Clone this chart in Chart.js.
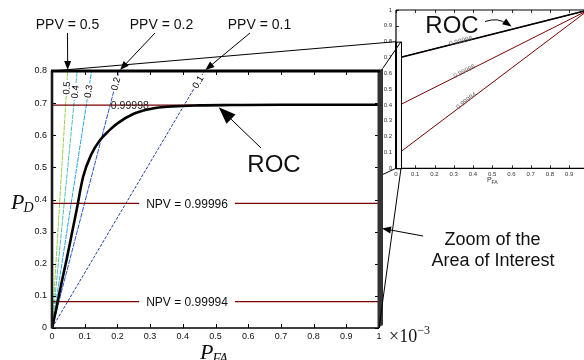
<!DOCTYPE html>
<html><head><meta charset="utf-8">
<script src="https://cdn.jsdelivr.net/npm/chart.js@4.4.1/dist/chart.umd.min.js"></script>
<style>
html,body{margin:0;padding:0;width:584px;height:360px;overflow:hidden;background:#fff;}
#wrap{position:relative;width:584px;height:360px;overflow:hidden;}
canvas{position:absolute;}
</style></head><body>
<div id="wrap">
<canvas id="main" width="584" height="360" style="left:0;top:0;width:584px;height:360px"></canvas>
<canvas id="inset" width="240" height="200" style="left:360px;top:0;width:240px;height:200px"></canvas>
<canvas id="overlay" width="584" height="360" style="left:0;top:0;width:584px;height:360px"></canvas>
</div>
<script>
// ---------------- data ----------------
const xTickValues = [0, 0.1, 0.2, 0.3, 0.4, 0.5, 0.6, 0.7, 0.8, 0.9, 1];
const xTickLabels = ['0', '0.1', '0.2', '0.3', '0.4', '0.5', '0.6', '0.7', '0.8', '0.9', '1'];
const yTickValues = [0, 0.1, 0.2, 0.3, 0.4, 0.5, 0.6, 0.7, 0.8];
const yTickLabels = ['0', '0.1', '0.2', '0.3', '0.4', '0.5', '0.6', '0.7', '0.8'];

// ROC curve (P_FA in units of 1e-3)
const rocPFA = [0, 0.01, 0.02, 0.03, 0.045, 0.06, 0.075, 0.095, 0.12, 0.147, 0.175, 0.2, 0.25, 0.3, 0.37, 0.45, 0.55, 0.7, 0.85, 1.0];
const rocPD  = [0, 0.045, 0.095, 0.145, 0.215, 0.29, 0.366, 0.47, 0.54, 0.585, 0.615, 0.637, 0.667, 0.682, 0.690, 0.693, 0.694, 0.695, 0.695, 0.695];

// NPV iso-lines (horizontal)
const npvLevels = ['0.99998', '0.99996', '0.99994'];
const npvPD = [0.694, 0.388, 0.082];

// PPV iso-lines through the origin: P_FA where P_D reaches 0.8
const ppvLevels = ['0.5', '0.4', '0.3', '0.2', '0.1'];
const ppvPFAatTop = [0.048, 0.077, 0.121, 0.205, 0.466];

// inset (full P_FA range 0..1)
const insetTickValues = [0, 0.1, 0.2, 0.3, 0.4, 0.5, 0.6, 0.7, 0.8, 0.9, 1];
const insetTickLabels = ['0', '0.1', '0.2', '0.3', '0.4', '0.5', '0.6', '0.7', '0.8', '0.9', '1'];
const insetRocPFA = [0, 0.001, 1];
const insetRocPD = [0, 0.694, 1];
const insetNpvStartPD = [0.694, 0.388, 0.082];
const insetNpvEnd = [1, 1];

// ---------------- styles ----------------
const SANS = "'Liberation Sans', Arial, Helvetica, sans-serif";
const SERIF = "'Liberation Serif', 'Times New Roman', serif";
const NPV_COLOR = '#7a0000';
const PPV_COLORS = ['#9ccf45', '#4cc2b0', '#27a3e3', '#2a55c4', '#1d3c9e'];

function arrowHead(ctx, fx, fy, tx, ty, len, wid) {
  const a = Math.atan2(ty - fy, tx - fx);
  const c = Math.cos(a), s = Math.sin(a);
  ctx.beginPath();
  ctx.moveTo(tx, ty);
  ctx.lineTo(tx - c * len - s * wid / 2, ty - s * len + c * wid / 2);
  ctx.lineTo(tx - c * len + s * wid / 2, ty - s * len - c * wid / 2);
  ctx.closePath();
  ctx.fill();
}
function arrow(ctx, x0, y0, x1, y1, len, wid) {
  const a = Math.atan2(y1 - y0, x1 - x0);
  ctx.beginPath();
  ctx.moveTo(x0, y0);
  ctx.lineTo(x1 - Math.cos(a) * len * 0.7, y1 - Math.sin(a) * len * 0.7);
  ctx.stroke();
  arrowHead(ctx, x0, y0, x1, y1, len, wid);
}

// ---------------- main chart ----------------
const mainDecor = {
  id: 'mainDecor',
  afterDatasetsDraw(chart) {
    const ctx = chart.ctx, xs = chart.scales.x, ys = chart.scales.y, ca = chart.chartArea;
    ctx.save();
    // PPV contour labels
    const ppvLabelPD = [0.747, 0.735, 0.737, 0.76, 0.766];
    ppvLevels.forEach((lab, i) => {
      const pd = ppvLabelPD[i];
      const fa = ppvPFAatTop[i] * pd / 0.8;
      const px = xs.getPixelForValue(fa), py = ys.getPixelForValue(pd);
      const ang = Math.atan2(ys.getPixelForValue(0.8) - ys.getPixelForValue(0),
                             xs.getPixelForValue(ppvPFAatTop[i]) - xs.getPixelForValue(0));
      ctx.save();
      ctx.translate(px, py); ctx.rotate(ang);
      ctx.font = '9.5px ' + SANS;
      const w = ctx.measureText(lab).width;
      ctx.fillStyle = '#fff'; ctx.fillRect(-w / 2 - 1.5, -4, w + 3, 8);
      ctx.fillStyle = '#000'; ctx.textAlign = 'center'; ctx.textBaseline = 'middle';
      ctx.fillText(lab, 0, 0.5);
      ctx.restore();
    });
    // NPV labels
    ctx.textBaseline = 'middle';
    ctx.font = '10.5px ' + SANS; ctx.fillStyle = '#222'; ctx.textAlign = 'left';
    ctx.fillText(npvLevels[0], xs.getPixelForValue(0.18), ys.getPixelForValue(npvPD[0]) + 1);
    ctx.font = '12px ' + SANS; ctx.textAlign = 'center';
    for (let i = 1; i < npvLevels.length; i++) {
      const t = 'NPV = ' + npvLevels[i];
      const px = xs.getPixelForValue(0.413), py = ys.getPixelForValue(npvPD[i]);
      const w = ctx.measureText(t).width;
      ctx.fillStyle = '#fff'; ctx.fillRect(px - w / 2 - 7, py - 3, w + 14, 6);
      ctx.fillStyle = '#111'; ctx.fillText(t, px, py + 1);
    }
    ctx.restore();
  },
  afterDraw(chart) {
    const ctx = chart.ctx, xs = chart.scales.x, ys = chart.scales.y, ca = chart.chartArea;
    ctx.save();
    ctx.strokeStyle = '#000';
    // inward ticks
    ctx.lineWidth = 1;
    xTickValues.forEach(v => {
      const x = Math.round(xs.getPixelForValue(v)) + 0.5;
      ctx.beginPath(); ctx.moveTo(x, ca.bottom); ctx.lineTo(x, ca.bottom - 4); ctx.stroke();
      ctx.beginPath(); ctx.moveTo(x, ca.top); ctx.lineTo(x, ca.top + 4); ctx.stroke();
    });
    yTickValues.forEach(v => {
      const y = Math.round(ys.getPixelForValue(v)) + 0.5;
      ctx.beginPath(); ctx.moveTo(ca.left, y); ctx.lineTo(ca.left + 4, y); ctx.stroke();
      ctx.beginPath(); ctx.moveTo(ca.right, y); ctx.lineTo(ca.right - 4, y); ctx.stroke();
    });
    // box: thick left, bottom, top, 3-D right bar
    ctx.lineWidth = 1.3;
    ctx.beginPath(); ctx.moveTo(ca.left, ca.bottom); ctx.lineTo(ca.right, ca.bottom); ctx.stroke();
    ctx.lineWidth = 2.6; ctx.strokeStyle = '#1a1a1a';
    ctx.beginPath(); ctx.moveTo(ca.left, ca.top); ctx.lineTo(ca.left, ca.bottom + 0.5); ctx.stroke();
    ctx.fillStyle = '#333';
    ctx.beginPath();
    ctx.moveTo(ca.right - 1.5, ca.top); ctx.lineTo(ca.right + 4, ca.top - 3);
    ctx.lineTo(ca.right + 4, ca.bottom - 3); ctx.lineTo(ca.right - 1.5, ca.bottom);
    ctx.closePath(); ctx.fill();
    ctx.lineWidth = 3; ctx.strokeStyle = '#000';
    ctx.beginPath(); ctx.moveTo(ca.left - 1, ca.top); ctx.lineTo(ca.right + 1, ca.top); ctx.stroke();
    // axis titles
    ctx.fillStyle = '#111'; ctx.textBaseline = 'alphabetic'; ctx.textAlign = 'left';
    ctx.font = 'italic 22px ' + SERIF;
    ctx.fillText('P', 11, 209);
    let w = ctx.measureText('P').width;
    ctx.font = 'italic 14px ' + SERIF;
    ctx.fillText('D', 11 + w - 1, 212);
    ctx.font = 'italic 22px ' + SERIF;
    ctx.fillText('P', 200, 359);
    w = ctx.measureText('P').width;
    ctx.font = 'italic 14px ' + SERIF;
    ctx.fillText('FA', 200 + w - 1, 363);
    // x10^-3
    ctx.font = '18px ' + SERIF;
    ctx.fillText('\u00d710', 389, 342);
    w = ctx.measureText('\u00d710').width;
    ctx.font = '12px ' + SERIF;
    ctx.fillText('\u22123', 389 + w, 334);
    ctx.restore();
  }
};

const mainChart = new Chart(document.getElementById('main'), {
  type: 'scatter',
  data: {
    datasets: [
      { label: 'ROC', data: rocPFA.map((x, i) => ({ x, y: rocPD[i] })), showLine: true,
        borderColor: '#000', borderWidth: 2.6, pointRadius: 0, cubicInterpolationMode: 'monotone' },
      ...npvLevels.map((lab, i) => ({
        label: 'NPV ' + lab, data: [{ x: 0, y: npvPD[i] }, { x: 1, y: npvPD[i] }], showLine: true,
        borderColor: NPV_COLOR, borderWidth: 1.3, pointRadius: 0 })),
      ...ppvLevels.map((lab, i) => ({
        label: 'PPV ' + lab, data: [{ x: 0, y: 0 }, { x: ppvPFAatTop[i], y: 0.8 }], showLine: true,
        borderColor: PPV_COLORS[i], borderWidth: 1, borderDash: i === 4 ? [3, 1.5] : [5, 1], pointRadius: 0 }))
    ]
  },
  options: {
    responsive: false, animation: false, devicePixelRatio: 1,
    layout: { padding: { left: 0, top: 71, right: 205, bottom: 0 } },
    plugins: { legend: { display: false }, tooltip: { enabled: false } },
    scales: {
      x: {
        type: 'linear', min: 0, max: 1,
        afterBuildTicks: s => { s.ticks = xTickValues.map(v => ({ value: v })); },
        afterFit: s => { s.height = 32; },
        ticks: { callback: (v, i) => xTickLabels[i], font: { family: SANS, size: 9 }, color: '#111',
                 padding: 3, maxRotation: 0, autoSkip: false },
        grid: { drawOnChartArea: false, drawTicks: false }, border: { display: false }
      },
      y: {
        type: 'linear', min: 0, max: 0.8,
        afterBuildTicks: s => { s.ticks = yTickValues.map(v => ({ value: v })); },
        afterFit: s => { s.width = 52; },
        ticks: { callback: (v, i) => yTickLabels[i], font: { family: SANS, size: 9 }, color: '#111',
                 padding: 5, autoSkip: false },
        grid: { drawOnChartArea: false, drawTicks: false }, border: { display: false }
      }
    }
  },
  plugins: [mainDecor]
});

// ---------------- inset chart ----------------
const insetDecor = {
  id: 'insetDecor',
  afterDraw(chart) {
    const ctx = chart.ctx, xs = chart.scales.x, ys = chart.scales.y, ca = chart.chartArea;
    ctx.save();
    ctx.strokeStyle = '#000'; ctx.lineWidth = 0.8;
    insetTickValues.forEach(v => {
      const x = Math.round(xs.getPixelForValue(v)) + 0.5;
      ctx.beginPath(); ctx.moveTo(x, ca.bottom); ctx.lineTo(x, ca.bottom - 3); ctx.stroke();
      ctx.beginPath(); ctx.moveTo(x, ca.top); ctx.lineTo(x, ca.top + 3); ctx.stroke();
      const y = Math.round(ys.getPixelForValue(v)) + 0.5;
      ctx.beginPath(); ctx.moveTo(ca.left, y); ctx.lineTo(ca.left + 3, y); ctx.stroke();
    });
    ctx.lineWidth = 1.2;
    ctx.beginPath(); ctx.moveTo(ca.left, ca.top); ctx.lineTo(ca.right, ca.top); ctx.stroke();
    ctx.beginPath(); ctx.moveTo(ca.left, ca.top); ctx.lineTo(ca.left, ca.bottom); ctx.lineTo(ca.right, ca.bottom); ctx.stroke();
    // zoomed-area rectangle
    const rx0 = xs.getPixelForValue(0), rx1 = xs.getPixelForValue(0.026);
    const ry0 = ys.getPixelForValue(0.8), ry1 = ys.getPixelForValue(0);
    ctx.fillStyle = '#f4f4f4'; ctx.fillRect(rx0, ry0, rx1 - rx0, ry1 - ry0);
    ctx.lineWidth = 1; ctx.strokeStyle = '#000';
    ctx.strokeRect(rx0 + 0.5, ry0 + 0.5, rx1 - rx0, ry1 - ry0);
    ctx.lineWidth = 2;
    ctx.beginPath(); ctx.moveTo(ca.left, ry0); ctx.lineTo(ca.left, ry1); ctx.stroke();
    // contour labels along the lines
    const labelPFA = [0.338, 0.358, 0.369];
    ctx.font = '6.5px ' + SANS; ctx.fillStyle = '#666'; ctx.textAlign = 'center'; ctx.textBaseline = 'middle';
    npvLevels.forEach((lab, i) => {
      const fa = labelPFA[i];
      const pd = insetNpvStartPD[i] + (insetNpvEnd[1] - insetNpvStartPD[i]) * fa;
      const ang = Math.atan2(ys.getPixelForValue(1) - ys.getPixelForValue(insetNpvStartPD[i]),
                             xs.getPixelForValue(1) - xs.getPixelForValue(0));
      ctx.save();
      ctx.translate(xs.getPixelForValue(fa), ys.getPixelForValue(pd));
      ctx.rotate(ang);
      ctx.fillText(lab, 0, -1);
      ctx.restore();
    });
    // axis title
    ctx.fillStyle = '#333'; ctx.textAlign = 'left'; ctx.textBaseline = 'alphabetic';
    ctx.font = '7px ' + SANS;
    ctx.fillText('P', 127, 182);
    ctx.font = '5px ' + SANS;
    ctx.fillText('FA', 131.5, 184);
    ctx.restore();
  }
};

const insetChart = new Chart(document.getElementById('inset'), {
  type: 'scatter',
  data: {
    datasets: [
      { label: 'ROC', data: insetRocPFA.map((x, i) => ({ x, y: insetRocPD[i] })), showLine: true,
        borderColor: '#000', borderWidth: 1.6, pointRadius: 0 },
      ...npvLevels.map((lab, i) => ({
        label: 'NPV ' + lab, data: [{ x: 0, y: insetNpvStartPD[i] }, { x: insetNpvEnd[0], y: insetNpvEnd[1] }],
        showLine: true, borderColor: NPV_COLOR, borderWidth: 1, pointRadius: 0 }))
    ]
  },
  options: {
    responsive: false, animation: false, devicePixelRatio: 1,
    layout: { padding: { left: 0, top: 10, right: 11.5, bottom: 0 } },
    plugins: { legend: { display: false }, tooltip: { enabled: false } },
    scales: {
      x: {
        type: 'linear', min: 0, max: 1,
        afterBuildTicks: s => { s.ticks = insetTickValues.map(v => ({ value: v })); },
        afterFit: s => { s.height = 31.7; },
        ticks: { callback: (v, i) => insetTickLabels[i], font: { family: SANS, size: 6 }, color: '#333',
                 padding: 2, maxRotation: 0, autoSkip: false },
        grid: { drawOnChartArea: false, drawTicks: false }, border: { display: false }
      },
      y: {
        type: 'linear', min: 0, max: 1,
        afterBuildTicks: s => { s.ticks = insetTickValues.map(v => ({ value: v })); },
        afterFit: s => { s.width = 36; },
        ticks: { callback: (v, i) => insetTickLabels[i], font: { family: SANS, size: 6 }, color: '#333',
                 padding: 4, autoSkip: false },
        grid: { drawOnChartArea: false, drawTicks: false }, border: { display: false }
      }
    }
  },
  plugins: [insetDecor]
});

// ---------------- overlay: connectors and annotations ----------------
(function () {
  const ctx = document.getElementById('overlay').getContext('2d');
  const mS = mainChart.scales, iS = insetChart.scales, ca = mainChart.chartArea;
  const mx = v => mS.x.getPixelForValue(v), my = v => mS.y.getPixelForValue(v);
  const ix = v => 360 + iS.x.getPixelForValue(v), iy = v => iS.y.getPixelForValue(v);
  ctx.strokeStyle = '#000'; ctx.fillStyle = '#000'; ctx.lineWidth = 1;

  // connectors between main box and inset rectangle
  const seg = (a, b, c, d) => { ctx.beginPath(); ctx.moveTo(a, b); ctx.lineTo(c, d); ctx.stroke(); };
  seg(mx(0), my(0.8), ix(0), iy(0.8));
  seg(mx(1) + 4, my(0.8) - 3, ix(0.026), iy(0.8));
  seg(mx(1), my(0), ix(0.026), iy(0));
  ctx.save();
  ctx.beginPath();
  ctx.rect(0, 0, 584, 360);
  ctx.rect(ca.left, ca.top - 4, ca.right + 4 - ca.left, ca.bottom - ca.top + 4);
  ctx.clip('evenodd');
  seg(mx(0), my(0), ix(0), iy(0));
  ctx.restore();

  // PPV annotations
  ctx.font = '14px ' + SANS; ctx.textAlign = 'center'; ctx.textBaseline = 'middle';
  ctx.fillStyle = '#111';
  ctx.fillText('PPV = ' + ppvLevels[0], 67.5, 25);
  ctx.fillText('PPV = ' + ppvLevels[3], 161.5, 25);
  ctx.fillText('PPV = ' + ppvLevels[4], 259.5, 25);
  ctx.fillStyle = '#000';
  arrow(ctx, 67.5, 33, mx(ppvPFAatTop[0]), my(0.8) - 1, 9, 7);
  arrow(ctx, 155, 33, mx(ppvPFAatTop[3]) + 1, my(0.8) - 1, 9, 7);
  arrow(ctx, 250, 33, mx(ppvPFAatTop[4]) + 1, my(0.8) - 1, 9, 7);

  // ROC annotation (main)
  ctx.font = '24px ' + SANS; ctx.fillStyle = '#111';
  ctx.fillText('ROC', 274, 165);
  ctx.fillStyle = '#000';
  arrow(ctx, 261, 148, mx(0.51), my(0.69) + 1, 17, 13);

  // ROC annotation (inset) with curved arrow
  ctx.fillStyle = '#111';
  ctx.fillText('ROC', 452, 26);
  const tx = ix(0.6), ty = iy(0.895);
  ctx.beginPath(); ctx.moveTo(485, 21.5); ctx.quadraticCurveTo(499, 17, tx - 5, ty - 2.5); ctx.stroke();
  ctx.fillStyle = '#000';
  arrowHead(ctx, 502, 20, tx, ty, 9, 7);

  // Zoom annotation
  ctx.font = '18px ' + SANS; ctx.fillStyle = '#111';
  ctx.fillText('Zoom of the', 492.5, 240);
  ctx.fillText('Area of Interest', 493, 261);
  ctx.fillStyle = '#000';
  arrow(ctx, 423, 236, mx(1) + 3, my(0.31), 9, 7);
})();
</script>
</body></html>
